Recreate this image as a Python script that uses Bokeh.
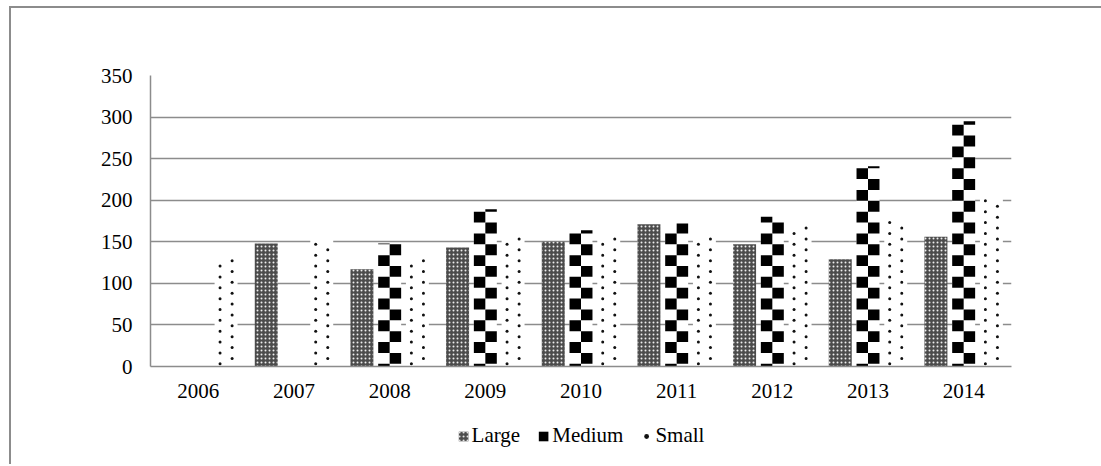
import numpy as np
from bokeh.plotting import figure
from bokeh.layouts import column
from bokeh.models import (FactorRange, Range1d, FixedTicker, ColumnDataSource,
                          Legend, LegendItem)
from bokeh.transform import dodge
from bokeh.embed import file_html
from bokeh.resources import INLINE

# ---- data ----
years = ["2006", "2007", "2008", "2009", "2010", "2011", "2012", "2013", "2014"]
large = [0, 148, 117, 143, 150, 171, 147, 129, 156]
medium = [0, 0, 148, 189, 164, 172, 180, 241, 295]
small = [133, 152, 130, 160, 158, 156, 173, 177, 204]
y_ticks = [0, 50, 100, 150, 200, 250, 300, 350]
series = ["Large", "Medium", "Small"]

# ---- style ----
FONT = "Liberation Serif"
GRID = "#8c8c8c"
OFF = 0.29      # dodge between bars (category units)
BW = 0.24       # bar width
CELL = 13.07    # pattern cell size (value units)
PHASE = 3.25
LARGE_STYLE = dict(fill_color="#4c4c4c", line_color=None, hatch_pattern="dot",
                   hatch_color="#eeeeee", hatch_scale=4, hatch_weight=1)
MED_STYLE = dict(fill_color="black", line_color=None)
DOT_STYLE = dict(marker="circle", size=3, fill_color="#111111", line_color=None)

p = figure(x_range=FactorRange(factors=years), y_range=Range1d(0, 350),
           frame_width=861, frame_height=291, output_backend="svg",
           toolbar_location=None,
           min_border_left=139, min_border_right=100, min_border_top=67,
           min_border_bottom=42)
p.outline_line_color = None

# axes
for ax in (p.xaxis, p.yaxis):
    ax.axis_label = None
    ax.axis_line_color = GRID
    ax.axis_line_width = 1.5
    ax.major_tick_line_color = None
    ax.minor_tick_line_color = None
    ax.major_tick_out = 0
    ax.major_tick_in = 0
    ax.major_label_text_font = FONT
    ax.major_label_text_font_size = "21px"
    ax.major_label_text_color = "black"
p.yaxis.ticker = FixedTicker(ticks=y_ticks)
p.yaxis.major_label_standoff = 18
p.xaxis.major_label_standoff = 17
p.xgrid.grid_line_color = None
p.ygrid.grid_line_color = GRID
p.ygrid.grid_line_width = 1.5
p.ygrid.ticker = FixedTicker(ticks=y_ticks[1:])

src = ColumnDataSource(dict(x=years, large=large, medium=medium, small=small))

# Large bars: grey stipple
p.vbar(x=dodge("x", -OFF, range=p.x_range), top="large", width=BW, source=src,
       **LARGE_STYLE)

# Medium bars: white base + black checker cells
p.vbar(x="x", top="medium", width=BW, source=src, fill_color="white",
       line_color=None)


def checker(values, col):
    xs, bots, tops = [], [], []
    for yr, v in zip(years, values):
        if v <= 0:
            continue
        edges = [0.0]
        e = PHASE
        while e < v:
            edges.append(e)
            e += CELL
        edges.append(float(v))
        for j in range(len(edges) - 1):
            if (j + col) % 2 == 0:
                xs.append(yr)
                bots.append(edges[j])
                tops.append(edges[j + 1])
    return ColumnDataSource(dict(x=xs, bottom=bots, top=tops))


for col, off in ((0, -BW / 4), (1, BW / 4)):
    p.vbar(x=dodge("x", off, range=p.x_range), bottom="bottom", top="top",
           width=BW / 2, source=checker(medium, col), **MED_STYLE)

# Small bars: white base + dots
p.vbar(x=dodge("x", OFF, range=p.x_range), top="small", width=BW, source=src,
       fill_color="white", line_color=None)


def dots(values, start):
    xs, ys = [], []
    for yr, v in zip(years, values):
        y = start
        while y < v - 1:
            xs.append(yr)
            ys.append(y)
            y += CELL
    return ColumnDataSource(dict(x=xs, y=ys))


for start, off in ((3.2, OFF - 0.063), (9.7, OFF + 0.063)):
    p.scatter(x=dodge("x", off, range=p.x_range), y="y",
              source=dots(small, start), **DOT_STYLE)

# ---- legend strip below the chart (key-only renderers, outside its ranges) ----
lg = figure(width=1100, height=56, x_range=Range1d(0, 1), y_range=Range1d(0, 1),
            x_axis_type=None, y_axis_type=None, output_backend="svg",
            toolbar_location=None, min_border=0, min_border_right=9)
lg.outline_line_color = None
lg.xgrid.visible = False
lg.ygrid.visible = False
key_src = ColumnDataSource(dict(x=[-10.0], top=[-10.0]))
k_large = lg.vbar(x="x", top="top", width=0.1, source=key_src, **LARGE_STYLE)
k_med = lg.vbar(x="x", top="top", width=0.1, source=key_src, **MED_STYLE)
k_small = lg.scatter(x="x", y="top", source=key_src, **DOT_STYLE)

legend = Legend(items=[LegendItem(label=series[0], renderers=[k_large]),
                       LegendItem(label=series[1], renderers=[k_med]),
                       LegendItem(label=series[2], renderers=[k_small])],
                orientation="horizontal", location="top",
                label_text_font=FONT, label_text_font_size="21px",
                label_text_color="black",
                glyph_width=12, glyph_height=12, label_standoff=3, spacing=17,
                padding=0, margin=15, border_line_color=None,
                background_fill_alpha=0)
lg.add_layout(legend)

layout = column(p, lg, spacing=0)
layout.styles = {"border-top": "2px solid #8c8c8c",
                 "border-left": "2px solid #8c8c8c",
                 "margin-left": "9px", "margin-top": "6px"}

open("out.html", "w").write(file_html(layout, INLINE))
